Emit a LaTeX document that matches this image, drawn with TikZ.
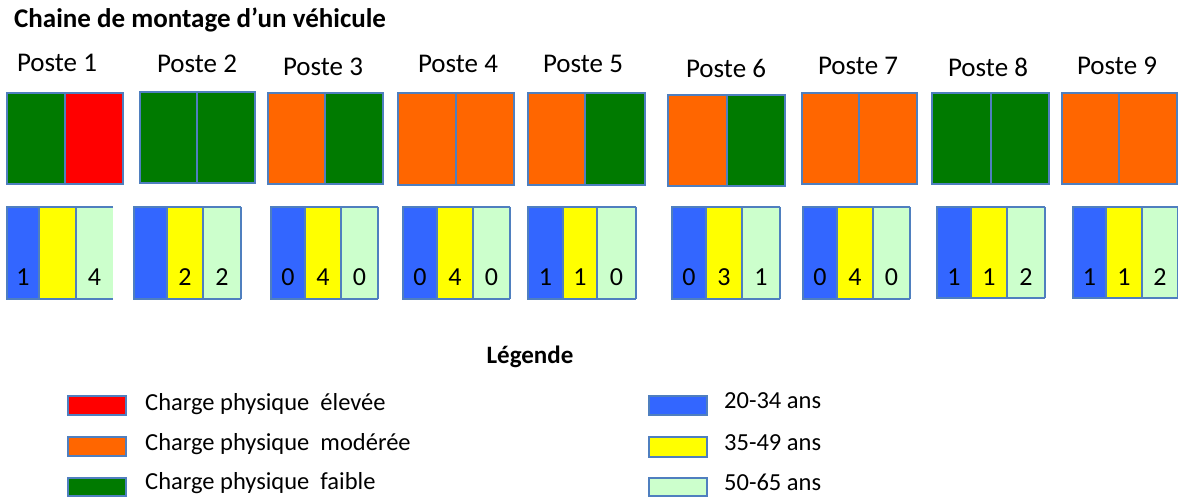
\documentclass[tikz,border=0pt]{standalone}
\usepackage{fontspec}
\setmainfont{Carlito}
\definecolor{cgreen}{HTML}{007A00}
\definecolor{cred}{HTML}{FF0000}
\definecolor{corange}{HTML}{FF6600}
\definecolor{cblue}{HTML}{3366FF}
\definecolor{cyellow}{HTML}{FFFF00}
\definecolor{clight}{HTML}{CCFFCC}
\definecolor{bord}{HTML}{4F7FBF}
\begin{document}
\begin{tikzpicture}[x=1pt,y=-1pt,
  frame/.style={draw=bord,line width=1.2pt},
  lbl/.style={anchor=base,inner sep=0pt,font=\fontsize{27}{32}\selectfont},
  num/.style={anchor=base,inner sep=0pt,font=\fontsize{26}{30}\selectfont},
  legtxt/.style={anchor=base west,inner sep=0pt,font=\fontsize{24.5}{29}\selectfont},
  legbox/.style={draw=bord,line width=1.2pt}]
\useasboundingbox (0,0) rectangle (1178,497);
% title
\node[anchor=base west,inner sep=0pt,font=\bfseries\fontsize{27}{32}\selectfont] (title) at (14,28) {Chaine de montage d’un véhicule};
% charge boxes
\foreach \i/\a/\b/\c/\t/\u/\l/\r in {
  1/7/65/123/93/184/cgreen/cred,
  2/140/197/255/92/183/cgreen/cgreen,
  3/268/325/383/93/184/corange/cgreen,
  4/398/456/514/93/185/corange/corange,
  5/528/585/645/93/185/corange/cgreen,
  6/668/727/785/95/186/corange/cgreen,
  7/802/859/917/93/184/corange/corange,
  8/932/991/1049/93/184/cgreen/cgreen,
  9/1062/1119/1177/93/184/corange/corange}{
  \fill[\l] (\a,\t) rectangle (\b,\u);
  \fill[\r] (\b,\t) rectangle (\c,\u);
  \draw[frame] (\a,\t) rectangle (\c,\u) (\b,\t) -- (\b,\u);
}
% poste labels
\foreach \i/\x/\y in {1/57/72,2/197/73,3/323/76,4/458/73,5/583/73,6/726/78,7/858/75,8/988/77,9/1117/75}{
  \node[lbl] (p\i) at (\x,\y) {Poste \i};
}
% age bars
\foreach \i/\a/\b/\c/\d/\t/\u/\na/\nb/\nc in {
  1/7/39/76/113/207/299/1//4,
  2/134/167/203/241/207/299//2/2,
  3/271/305/341/378/207/299/0/4/0,
  4/403/437/473/510/207/299/0/4/0,
  5/528/563/597/636/207/299/1/1/0,
  6/672/706/742/780/207/299/0/3/1,
  7/803/837/873/910/207/299/0/4/0,
  8/937/971/1007/1045/207/298/1/1/2,
  9/1073/1106/1142/1178/207/298/1/1/2}{
  \fill[cblue] (\a,\t) rectangle (\b,\u);
  \fill[cyellow] (\b,\t) rectangle (\c,\u);
  \fill[clight] (\c,\t) rectangle (\d,\u);
  \draw[frame] (\d,\t) -- (\a,\t) -- (\a,\u) -- (\d,\u) (\b,\t) -- (\b,\u) (\c,\t) -- (\c,\u);
  \ifnum\i>1 \draw[frame] (\d,\t) -- (\d,\u);\fi
  \node[num] (na\i) at ({(\a+\b)/2},285) {\na};
  \node[num] (nb\i) at ({(\b+\c)/2},285) {\nb};
  \node[num] (nc\i) at ({(\c+\d)/2},285) {\nc};
}
% legend
\node[anchor=base,inner sep=0pt,font=\bfseries\fontsize{25}{30}\selectfont] (leg) at (530,363) {Légende};
\fill[cred] (68,396) rectangle (126,415); \draw[legbox] (68,396) rectangle (126,415);
\fill[corange] (68,437) rectangle (126,456); \draw[legbox] (68,437) rectangle (126,456);
\fill[cgreen] (68,478) rectangle (126,496); \draw[legbox] (68,478) rectangle (126,496);
\node[legtxt] (l1) at (145,410) {Charge physique\ \ élevée};
\node[legtxt] (l2) at (145,450) {Charge physique\ \ modérée};
\node[legtxt] (l3) at (145,489) {Charge physique\ \ faible};
\fill[cblue] (649,396) rectangle (707,415); \draw[legbox] (649,396) rectangle (707,415);
\fill[cyellow] (649,437) rectangle (707,457); \draw[legbox] (649,437) rectangle (707,457);
\fill[clight] (649,478) rectangle (707,496); \draw[legbox] (649,478) rectangle (707,496);
\node[legtxt] (r1) at (724,408) {20-34 ans};
\node[legtxt] (r2) at (724,450) {35-49 ans};
\node[legtxt] (r3) at (724,490) {50-65 ans};
\end{tikzpicture}
\end{document}
